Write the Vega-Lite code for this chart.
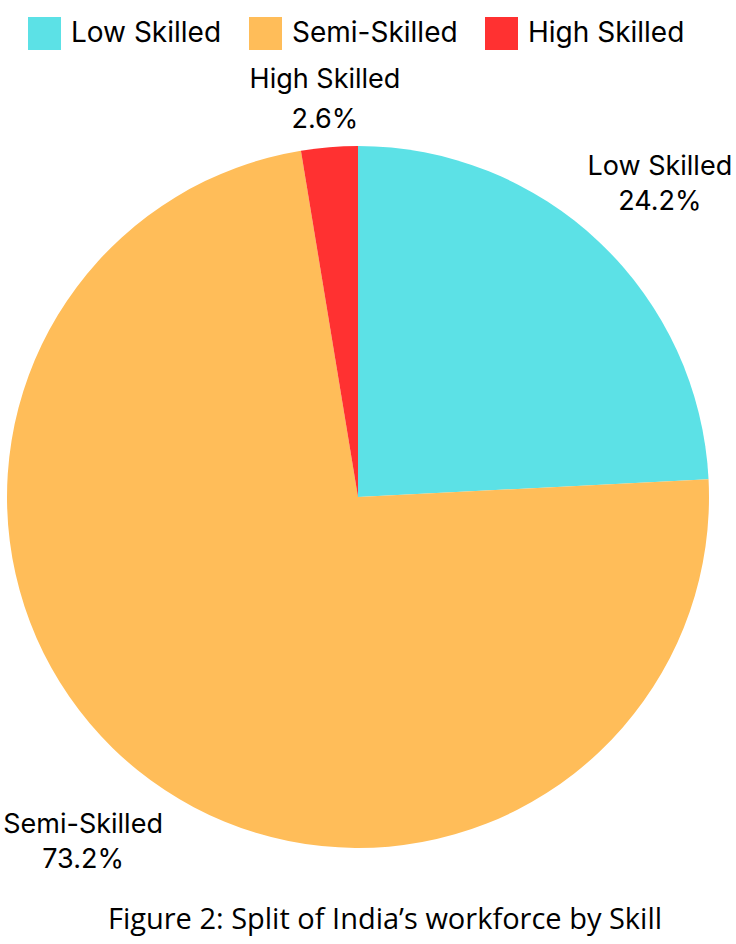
{
  "$schema": "https://vega.github.io/schema/vega-lite/v6.json",
  "width": 716,
  "height": 894,
  "autosize": {"type": "none"},
  "padding": {"left": 0, "top": 50, "right": 20, "bottom": 0},
  "background": "white",
  "config": {"view": {"stroke": null}, "font": "Inter"},
  "title": {
    "text": "Figure 2: Split of India’s workforce by Skill",
    "orient": "bottom",
    "offset": -38,
    "dx": 27,
    "font": "Open Sans",
    "fontSize": 29,
    "fontWeight": "normal",
    "color": "black",
    "anchor": "middle",
    "frame": "group"
  },
  "data": {
    "values": [
      {"skill": "Low Skilled", "share": 24.2, "order": 1},
      {"skill": "Semi-Skilled", "share": 73.2, "order": 2},
      {"skill": "High Skilled", "share": 2.6, "order": 3}
    ]
  },
  "transform": [
    {"calculate": "datum.skill + '\\n' + format(datum.share, '.1f') + '%'", "as": "label"}
  ],
  "encoding": {
    "theta": {"field": "share", "type": "quantitative", "stack": true},
    "order": {"field": "order", "type": "quantitative"}
  },
  "layer": [
    {
      "mark": {"type": "arc", "outerRadius": 351},
      "encoding": {
        "color": {
          "field": "skill",
          "type": "nominal",
          "scale": {
            "domain": ["Low Skilled", "Semi-Skilled", "High Skilled"],
            "range": ["#5CE1E6", "#FFBD59", "#FF3131"]
          },
          "sort": ["Low Skilled", "Semi-Skilled", "High Skilled"],
          "legend": {
            "orient": "none",
            "direction": "horizontal",
            "legendX": 28,
            "legendY": -33,
            "title": null,
            "symbolType": "square",
            "symbolSize": 1089,
            "symbolStrokeWidth": 0,
            "symbolOpacity": 1,
            "labelFontSize": 28,
            "labelFont": "Inter",
            "labelColor": "black",
            "labelOffset": 10,
            "labelLimit": 300,
            "columnPadding": 27,
            "padding": 0
          }
        }
      }
    },
    {
      "mark": {
        "type": "text",
        "fontSize": 27,
        "font": "Inter",
        "lineBreak": "\n",
        "lineHeight": 35,
        "color": "black",
        "align": "center",
        "baseline": "middle",
        "radius": 438,
        "dy": -13
      },
      "encoding": {
        "text": {
          "condition": {"test": "datum.skill === 'High Skilled'", "value": ""},
          "field": "label",
          "type": "nominal"
        },
        "detail": {"field": "skill", "type": "nominal"}
      }
    },
    {
      "mark": {
        "type": "text",
        "fontSize": 27,
        "font": "Inter",
        "lineBreak": "\n",
        "lineHeight": 40,
        "color": "black",
        "align": "center",
        "baseline": "middle",
        "radius": 405,
        "dy": -13
      },
      "encoding": {
        "text": {
          "condition": {"test": "datum.skill !== 'High Skilled'", "value": ""},
          "field": "label",
          "type": "nominal"
        },
        "detail": {"field": "skill", "type": "nominal"}
      }
    }
  ]
}
